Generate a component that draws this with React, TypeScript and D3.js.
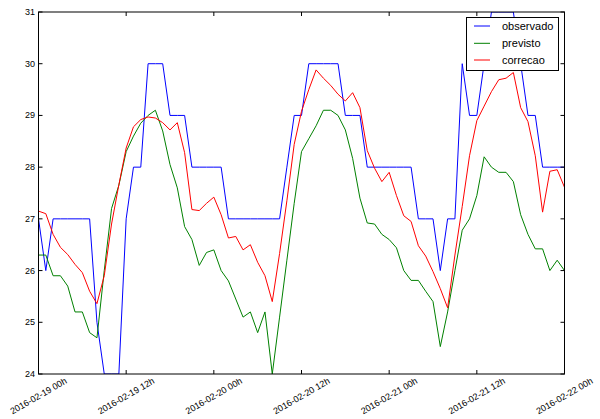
import React from "react";
import * as d3 from "d3";

// hourly values, 2016-02-19 00h .. 2016-02-22 00h
const observado = [
  27, 26, 27, 27, 27, 27, 27, 27, 25, 24, 24, 24, 27, 28, 28, 30, 30, 30, 29, 29, 29, 28, 28, 28, 28,
  28, 27, 27, 27, 27, 27, 27, 27, 27, 28, 29, 29, 30, 30, 30, 30, 30, 29, 29, 29, 28, 28, 28, 28,
  28, 28, 28, 27, 27, 27, 26, 27, 27, 30, 29, 29, 30, 31, 31, 31, 31, 30, 29, 29, 28, 28, 28, 28,
];
const previsto = [
  26.3, 26.3, 25.9, 25.9, 25.7, 25.2, 25.2, 24.8, 24.7, 26.0, 27.2, 27.65, 28.3, 28.6, 28.85, 29.0,
  29.1, 28.7, 28.05, 27.6, 26.85, 26.6, 26.1, 26.35, 26.4,
  26.0, 25.8, 25.45, 25.1, 25.2, 24.8, 25.2, 24.0, 25.1, 26.2, 27.3, 28.3, 28.55, 28.8, 29.1, 29.1,
  29.0, 28.72, 28.17, 27.4, 26.92, 26.9, 26.7, 26.6,
  26.44, 26.0, 25.81, 25.81, 25.6, 25.4, 24.53, 25.2, 26.0, 26.78, 27.0, 27.45, 28.2, 28.0, 27.9,
  27.9, 27.72, 27.08, 26.7, 26.42, 26.42, 26.0, 26.2, 26.0,
];
const correcao = [
  27.15, 27.1, 26.7, 26.45, 26.31, 26.12, 25.96, 25.6, 25.36, 25.9, 26.9, 27.66, 28.37, 28.78, 28.92,
  28.97, 28.95, 28.86, 28.72, 28.86, 28.28, 27.18, 27.16, 27.3, 27.42,
  27.08, 26.63, 26.66, 26.4, 26.5, 26.16, 25.9, 25.4, 26.33, 27.35, 28.44, 29.08, 29.5, 29.88, 29.72,
  29.58, 29.41, 29.28, 29.44, 29.15, 28.32, 27.98, 27.72, 27.9,
  27.45, 27.06, 26.95, 26.48, 26.28, 25.98, 25.65, 25.28, 26.3, 27.24, 28.22, 28.9, 29.18, 29.46,
  29.69, 29.72, 29.83, 29.15, 28.88, 28.22, 27.13, 27.92, 27.95, 27.61,
];
const xTickHours = [0, 12, 24, 36, 48, 60, 72];
const xTickLabels = [
  "2016-02-19 00h",
  "2016-02-19 12h",
  "2016-02-20 00h",
  "2016-02-20 12h",
  "2016-02-21 00h",
  "2016-02-21 12h",
  "2016-02-22 00h",
];
const yTicks = [24, 25, 26, 27, 28, 29, 30, 31];
const seriesNames = ["observado", "previsto", "correcao"];
const seriesColors = ["#0000ff", "#008000", "#ff0000"];

export default function App() {
  const W = 600, H = 419;
  const left = 38.5, right = 564.5, top = 12, bottom = 374;
  const x = d3.scaleLinear().domain([0, 72]).range([left, right]);
  const y = d3.scaleLinear().domain([24, 31]).range([bottom, top]);
  const line = d3
    .line<number>()
    .x((_, i) => x(i))
    .y((d) => y(d));
  const all = [observado, previsto, correcao];
  const font = "'Liberation Sans', Arial, sans-serif";
  const tickLen = 4;
  const legX = 466.5, legY = 17.5, legW = 92, legH = 53;
  const rowY = [26, 43.3, 60];

  return (
    <svg
      width={W}
      height={H}
      style={{ position: "absolute", left: 0, top: 0, background: "#fff" }}
      fontFamily={font}
    >
      <defs>
        <clipPath id="plotclip">
          <rect x={left} y={top} width={right - left} height={bottom - top} />
        </clipPath>
      </defs>
      <rect x={0} y={0} width={W} height={H} fill="#fff" />
      <g clipPath="url(#plotclip)">
        {all.map((s, i) => (
          <path
            key={i}
            d={line(s) || ""}
            fill="none"
            stroke={seriesColors[i]}
            strokeWidth={1}
            strokeLinejoin="miter"
          />
        ))}
      </g>
      {/* ticks */}
      {yTicks.map((t) => (
        <g key={"y" + t}>
          <line x1={left} x2={left + tickLen} y1={y(t)} y2={y(t)} stroke="#000" strokeWidth={1} />
          <line x1={right} x2={right - tickLen} y1={y(t)} y2={y(t)} stroke="#000" strokeWidth={1} />
          <text
            x={35}
            y={y(t)}
            textAnchor="end"
            dominantBaseline="central"
            fontSize={9}
            fill="#000"
          >
            {t}
          </text>
        </g>
      ))}
      {xTickHours.map((h, i) => (
        <g key={"x" + h}>
          <line x1={x(h)} x2={x(h)} y1={bottom} y2={bottom - tickLen} stroke="#000" strokeWidth={1} />
          <line x1={x(h)} x2={x(h)} y1={top} y2={top + tickLen} stroke="#000" strokeWidth={1} />
          <text
            x={x(h)}
            y={396}
            textAnchor="middle"
            dominantBaseline="central"
            fontSize={9}
            fill="#000"
            transform={`rotate(-30, ${x(h)}, 396)`}
          >
            {xTickLabels[i]}
          </text>
        </g>
      ))}
      <rect
        x={left}
        y={top}
        width={right - left}
        height={bottom - top}
        fill="none"
        stroke="#000"
        strokeWidth={1}
      />
      {/* legend */}
      <rect x={legX} y={legY} width={legW} height={legH} fill="#fff" stroke="#000" strokeWidth={1} />
      {seriesNames.map((n, i) => (
        <g key={n}>
          <line x1={474} x2={490} y1={rowY[i]} y2={rowY[i]} stroke={seriesColors[i]} strokeWidth={1} />
          <text x={502} y={rowY[i]} dominantBaseline="central" fontSize={11} fill="#000">
            {n}
          </text>
        </g>
      ))}
    </svg>
  );
}
